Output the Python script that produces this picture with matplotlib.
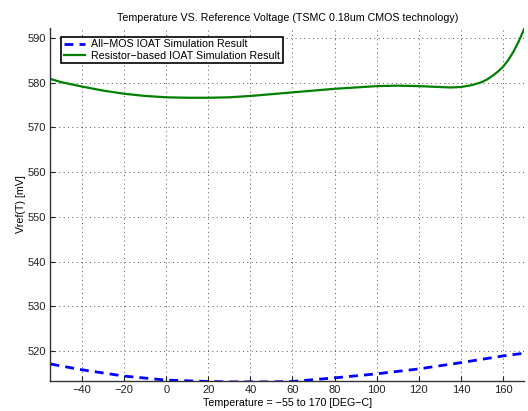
import matplotlib
matplotlib.use("Agg")
import matplotlib.pyplot as plt

plt.rcParams['font.family'] = ['Liberation Sans', 'DejaVu Sans']

# Temperature sweep [DEG-C] and reference voltage [mV]
temp_mos = [-55, -40, -20, 0, 20, 30, 40, 50, 60, 80, 100, 120, 140, 160, 170]
vref_mos = [517.1, 515.8, 514.4, 513.5, 513.2, 513.1, 513.1, 513.1, 513.2,
            514.0, 514.9, 516.0, 517.4, 518.9, 519.5]

temp_res = [-55, -50, -40, -30, -20, -10, 0, 10, 20, 30, 40, 50, 60, 70, 80,
            90, 100, 110, 120, 130, 135, 140, 145, 150, 152.5, 155, 157.5,
            160, 162.5, 165, 167.5, 170]
vref_res = [580.8, 580.1, 579.1, 578.2, 577.5, 577.0, 576.7, 576.6, 576.6,
            576.7, 577.0, 577.4, 577.8, 578.2, 578.6, 578.9, 579.2, 579.3,
            579.2, 579.0, 578.9, 579.0, 579.4, 580.1, 580.7, 581.5, 582.4,
            583.5, 585.0, 586.9, 589.2, 591.9]

x_ticks = [-40, -20, 0, 20, 40, 60, 80, 100, 120, 140, 160]
y_ticks = [520, 530, 540, 550, 560, 570, 580, 590]

fig = plt.figure(figsize=(5.28, 4.11), dpi=100)
ax = fig.add_axes([0.0956, 0.073, 0.8968, 0.859])

ax.plot(temp_mos, vref_mos, color='#0000ff', linestyle=(0, (3.2, 2.2)),
        linewidth=2.0, label='All\u2212MOS IOAT Simulation Result')
ax.plot(temp_res, vref_res, color='#008000', linewidth=1.6,
        label='Resistor\u2212based IOAT Simulation Result')

ax.set_xlim(-55, 170)
ax.set_ylim(513.3, 592.2)
ax.set_xticks(x_ticks)
ax.set_yticks(y_ticks)
ax.set_xticklabels([str(t).replace('-', '\u2212') for t in x_ticks])
ax.tick_params(direction='in', length=3.5, width=0.8, labelsize=8,
               colors='#222222', pad=3)

ax.grid(True, linestyle=(0, (1, 3.5)), color='#555555', linewidth=0.7)
for side in ('top', 'right'):
    ax.spines[side].set_visible(False)
for side in ('left', 'bottom'):
    ax.spines[side].set_color('#333333')
    ax.spines[side].set_linewidth(1.0)

ax.set_title('Temperature VS. Reference Voltage (TSMC 0.18um CMOS technology)',
             fontsize=7.7, pad=5)
ax.set_xlabel('Temperature = \u221255 to 170 [DEG\u2212C]', fontsize=7.7, labelpad=2)
ax.set_ylabel('Vref(T) [mV]', fontsize=7.7, labelpad=1)

leg = ax.legend(loc='upper left', bbox_to_anchor=(0.022, 0.975), fontsize=7.7,
                frameon=True, fancybox=False, handlelength=2.0,
                handletextpad=0.6, borderpad=0.25, borderaxespad=0,
                labelspacing=0.1)
leg.get_frame().set_edgecolor('black')
leg.get_frame().set_linewidth(1.2)
leg.get_frame().set_alpha(1)

fig.savefig('out.png', dpi=100)
